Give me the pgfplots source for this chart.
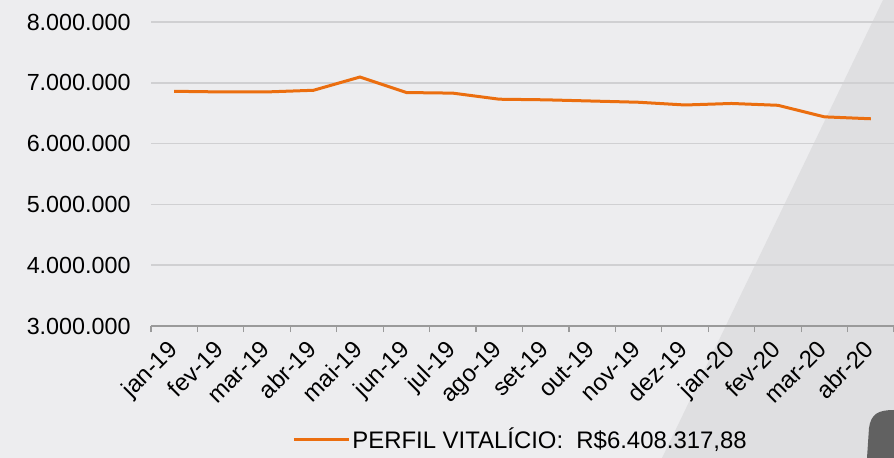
\documentclass[border=0pt]{standalone}
\usepackage{fontspec}
\setmainfont{Liberation Sans}
\usepackage{pgfplots}
\pgfplotsset{compat=1.18}
\definecolor{bgcol}{HTML}{EDEDEF}
\definecolor{bandcol}{HTML}{DFDFE1}
\definecolor{linecol}{HTML}{EB6E0F}
\definecolor{gridcol}{HTML}{D0D0D2}
\definecolor{axiscol}{HTML}{9A9A9A}

\begin{document}
\begin{tikzpicture}
\useasboundingbox (0,0) rectangle (894bp,458bp);
\fill[bgcol] (0,0) rectangle (894bp,458bp);
\fill[bandcol] (883bp,458bp) -- (894bp,458bp) -- (894bp,0) -- (662bp,0) -- cycle;
\fill[black!62] (867bp,0) -- (869bp,30bp) .. controls (871bp,44bp) and (878bp,48bp) .. (894bp,48bp) -- (894bp,0) -- cycle;
\begin{axis}[
  at={(151bp,132bp)}, anchor=south west,
  scale only axis, width=743bp, height=304bp,
  xmin=-0.5, xmax=15.5, ymin=3000000, ymax=8000000,
  ytick={3000000,4000000,...,8000000},
  xtick={0,...,15},
  xticklabels={jan-19,fev-19,mar-19,abr-19,mai-19,jun-19,jul-19,ago-19,set-19,out-19,nov-19,dez-19,jan-20,fev-20,mar-20,abr-20},
  minor xtick={-0.5,0.5,...,15.5},
  major tick length=0pt, minor tick length=6bp,
  tick align=outside,
  axis x line*=bottom, axis y line*=left,
  x axis line style={draw=axiscol, line width=1.2bp, -},
  y axis line style={draw=none},
  minor tick style={draw=axiscol, line width=1.2bp},
  ytick style={draw=none},
  ymajorgrids, grid style={draw=gridcol, line width=1.5bp},
  /pgf/number format/assume math mode=true,
  /pgf/number format/.cd, fixed, 1000 sep={.},
  /pgfplots/.cd,
  scaled y ticks=false,
  yticklabel style={font=\fontsize{23.4}{28}\selectfont, xshift=-17bp},
  xticklabel style={font=\fontsize{24}{28}\selectfont, xshift=-8bp, yshift=-11.5bp, rotate=45, anchor=north east, inner sep=1bp},
  legend style={at={(0.19,-0.372)}, anchor=west, draw=none, fill=none,
    font=\fontsize{24}{28}\selectfont, inner sep=0pt},
  legend image code/.code={\draw[#1] (0bp,0bp) -- (55bp,0bp);},
  legend cell align=left,
]
\addplot[color=linecol, line width=3bp] coordinates {
(0,6860000)(1,6850000)(2,6850000)(3,6877000)(4,7095000)(5,6840000)(6,6830000)(7,6730000)
(8,6720000)(9,6700000)(10,6680000)(11,6635000)(12,6660000)(13,6630000)(14,6440000)(15,6408318)};
\addlegendentry{PERFIL VITALÍCIO:\ \ R\$6.408.317,88}
\end{axis}
\end{tikzpicture}
\end{document}
